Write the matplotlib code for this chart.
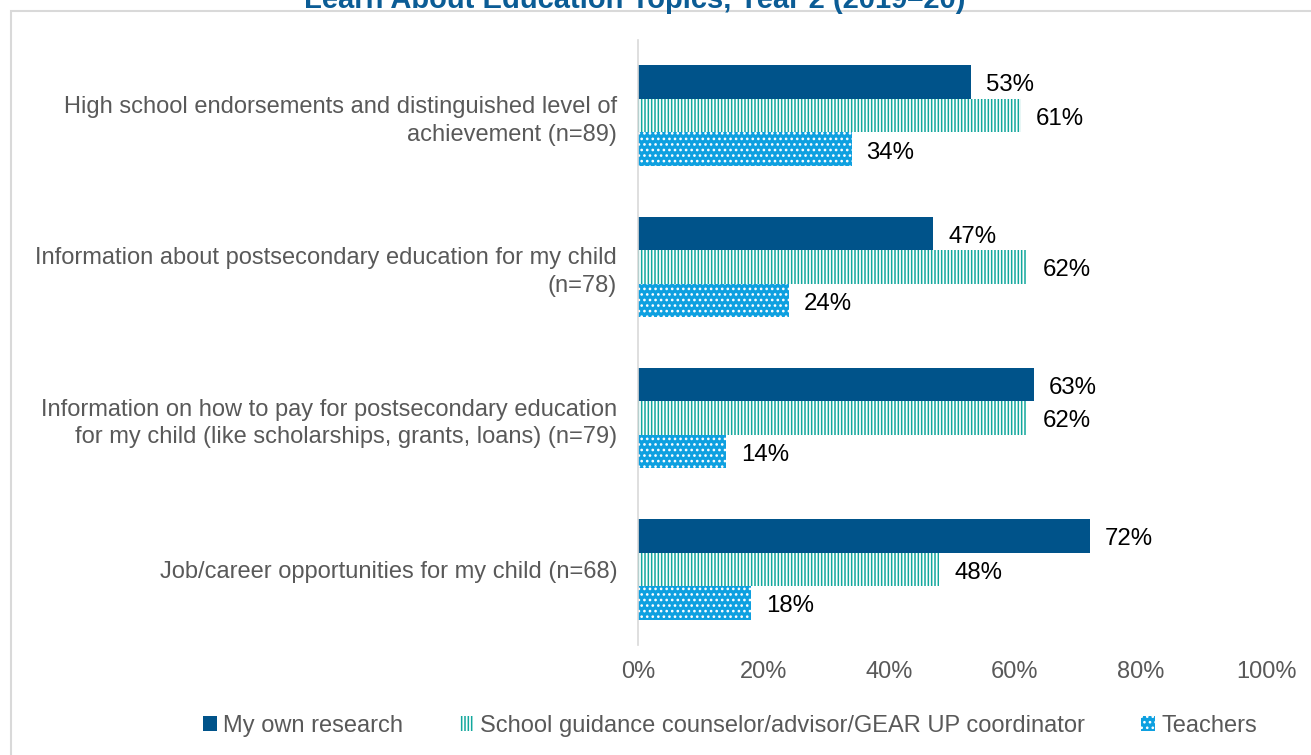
import matplotlib
matplotlib.use('Agg')

import matplotlib.pyplot as plt
from matplotlib.patches import Rectangle
import numpy as np

plt.rcParams['font.family'] = ['Liberation Sans', 'DejaVu Sans']
plt.rcParams['hatch.linewidth'] = 1.1

topics = ['High school endorsements and distinguished level of\nachievement (n=89)',
          'Information about postsecondary education for my child\n(n=78)',
          'Information on how to pay for postsecondary education\nfor my child (like scholarships, grants, loans) (n=79)',
          'Job/career opportunities for my child (n=68)']
own_research = [53, 47, 63, 72]
counselor = [61, 62, 62, 48]
teachers = [34, 24, 14, 18]
series_names = ['My own research',
                'School guidance counselor/advisor/GEAR UP coordinator',
                'Teachers']
xticks = [0, 20, 40, 60, 80, 100]

dark_blue = '#00538A'
teal = '#12A79D'
light_blue = '#0EA0E0'
grey_text = '#595959'

fig = plt.figure(figsize=(13.11, 7.55), dpi=100)
ax = fig.add_axes([638/1311, 1-645/755, (1266-638)/1311, (645-40)/755])

y = np.arange(len(topics))
h = 0.222

b1 = ax.barh(y - h, own_research, height=h, color=dark_blue, linewidth=0,
             label=series_names[0])
b2 = ax.barh(y, counselor, height=h, facecolor='white', edgecolor=teal,
             hatch='|||||', linewidth=0, label=series_names[1])
b3 = ax.barh(y + h, teachers, height=h, facecolor=light_blue, edgecolor='white',
             hatch='...', linewidth=0, label=series_names[2])

for bars, vals in [(b1, own_research), (b2, counselor), (b3, teachers)]:
    for rect, v in zip(bars, vals):
        ax.text(v + 2.4, rect.get_y() + rect.get_height()/2 + 0.022, '%d%%' % v,
                va='center', ha='left', fontsize=17.3, color='black')

ax.set_xlim(0, 100)
ax.set_ylim(len(topics) - 0.5, -0.5)
ax.set_xticks(xticks)
ax.set_xticklabels(['%d%%' % t for t in xticks], fontsize=17, color=grey_text)
ax.set_yticks(y)
ax.set_yticklabels(topics, fontsize=17, color=grey_text, linespacing=1.33)
ax.tick_params(axis='x', length=0, pad=11.5)
ax.tick_params(axis='y', length=0, pad=15)
for s in ['top', 'right', 'bottom']:
    ax.spines[s].set_visible(False)
ax.spines['left'].set_color('#D9D9D9')
ax.spines['left'].set_linewidth(1.2)

leg = fig.legend(handles=[b1, b2, b3], loc='center', bbox_to_anchor=(730/1311, 1-726/755),
                 ncol=3, frameon=False, fontsize=17, handlelength=0.6, handleheight=0.6,
                 handletextpad=0.25, columnspacing=2.4, labelcolor=grey_text)

fig.text(635/1311, 1-8/755, 'Learn About Education Topics, Year 2 (2019\u201320)',
         ha='center', va='baseline', fontsize=21, fontweight='bold', color='#0B5C95')

fig.patches.append(Rectangle((11/1311, -0.1), 1.2, 1-11/755+0.1, transform=fig.transFigure,
                             fill=False, edgecolor='#D9D9D9', linewidth=1.5))

plt.savefig('out.png', dpi=100)
